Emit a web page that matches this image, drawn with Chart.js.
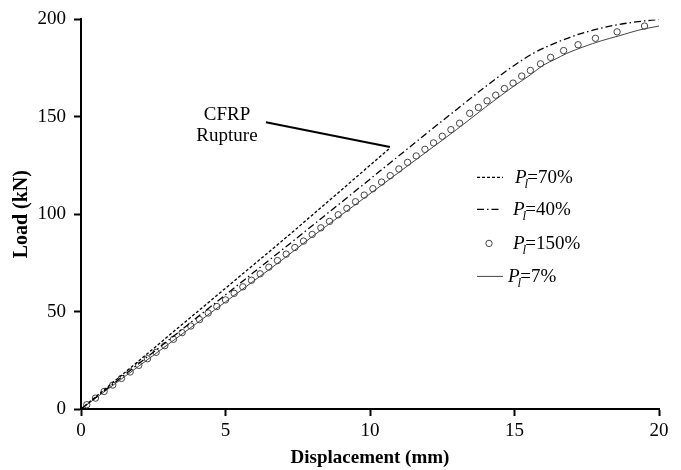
<!DOCTYPE html>
<html>
<head>
<meta charset="utf-8">
<title>Load vs displacement</title>
<script src="https://cdn.jsdelivr.net/npm/chart.js@4.4.0/dist/chart.umd.min.js"></script>
<style>
    html, body { margin: 0; padding: 0; background: #fff; }
    #chart { display: block; }
</style>
</head>
<body>
<canvas id="chart" width="681" height="470"></canvas>
<script>
// Load-displacement curves for different Pl levels

const xTicks = [0, 5, 10, 15, 20];
const yTicks = [0, 50, 100, 150, 200];

// Pl = 70% (stops at CFRP rupture)
const disp70 = [0, 1, 2, 3, 4, 5, 6, 7, 8, 9, 10, 10.69];
const load70 = [0, 12.3, 24.7, 37.2, 49.6, 62.0, 74.4, 86.8, 99.5, 112.3, 125.1, 134.0];

// Pl = 40%
const disp40 = [0, 1, 2, 3, 4, 5, 6, 7, 8, 9, 10, 11, 12, 13, 14, 15, 15.7, 16.2, 16.9, 17.6, 18.4, 19.2, 20];
const load40 = [0, 11.6, 23.3, 35.0, 46.8, 58.6, 70.4, 82.2, 94.1, 106.0, 118.0, 130.0, 142.0, 153.8, 165.5, 176.5, 183.0, 186.5, 190.7, 194.0, 196.8, 198.7, 200.0];

// Pl = 150% (markers only)
const disp150 = [0.2, 0.5, 0.8, 1.1, 1.4, 1.7, 2.0, 2.3, 2.6, 2.9, 3.2, 3.5, 3.8, 4.1, 4.4, 4.7,
    5.0, 5.3, 5.6, 5.9, 6.2, 6.5, 6.8, 7.1, 7.4, 7.7, 8.0, 8.3, 8.6, 8.9, 9.2, 9.5, 9.8,
    10.1, 10.4, 10.7, 11.0, 11.3, 11.6, 11.9, 12.2, 12.5, 12.8, 13.1, 13.45, 13.75, 14.05,
    14.35, 14.65, 14.95, 15.25, 15.55, 15.9, 16.25, 16.7, 17.2, 17.8, 18.55, 19.5];
const load150 = [2.2, 5.6, 9.0, 12.3, 15.7, 19.0, 22.4, 25.8, 29.1, 32.5, 35.8, 39.2, 42.6, 45.9, 49.3, 52.6,
    56.0, 59.4, 62.7, 66.1, 69.4, 72.8, 76.2, 79.5, 82.9, 86.2, 89.6, 93.0, 96.3, 99.7, 103.0, 106.4, 109.8,
    113.1, 116.5, 119.8, 123.2, 126.6, 129.9, 133.3, 136.6, 140.0, 143.4, 146.7, 151.8, 154.8, 158.2,
    161.1, 164.5, 167.3, 170.9, 173.8, 177.2, 180.5, 184.0, 187.0, 190.3, 193.6, 196.6];

// Pl = 7%
const disp7 = [0, 1, 2, 3, 4, 5, 6, 7, 8, 9, 10, 11, 12, 13, 14, 15, 15.5, 16, 16.4, 16.8, 17.4, 18, 18.6, 19.3, 20];
const load7 = [0, 11.0, 22.0, 33.0, 44.0, 55.0, 66.0, 77.0, 88.5, 99.5, 110.5, 121.5, 132.5, 143.5, 155.0, 166.0, 171.0, 176.5, 179.5, 182.5, 186.0, 189.0, 191.5, 194.5, 196.6];

const seriesPct = ['70%', '40%', '150%', '7%'];

// CFRP rupture callout: label anchor and arrow tip (data units)
const ruptureFrom = [6.4, 147.2];
const ruptureTo = [10.69, 134.5];
const ruptureText = ['CFRP', 'Rupture'];

const SERIF = '"Liberation Serif", "Times New Roman", serif';

const toPoints = (xs, ys) => xs.map((x, i) => ({ x: x, y: ys[i] }));

const styles = [
    { dash: [3, 2], color: '#000', width: 1.3 },
    { dash: [7, 3, 1.5, 3], color: '#000', width: 1.3 },
    { marker: true, color: '#444' },
    { dash: [], color: '#444', width: 1 }
];

// Draws "Pl=xx%" with italic P and subscript l
function drawPl(ctx, x, y, pct) {
    ctx.textBaseline = 'alphabetic';
    ctx.textAlign = 'left';
    ctx.fillStyle = '#000';
    ctx.font = 'italic 19px ' + SERIF;
    ctx.fillText('P', x, y);
    const pw = ctx.measureText('P').width;
    ctx.font = 'italic 13px ' + SERIF;
    ctx.fillText('l', x + pw - 2, y + 5);
    const lw = ctx.measureText('l').width;
    ctx.font = '19px ' + SERIF;
    ctx.fillText('=' + pct, x + pw + lw - 3, y);
}

const legendAndNotes = {
    id: 'legendAndNotes',
    afterDraw(chart) {
        const ctx = chart.ctx;
        const xs = chart.scales.x;
        const ys = chart.scales.y;
        const area = chart.chartArea;
        ctx.save();

        // Custom legend
        const rows = [
            { dy: 158, x0: 396, x1: 422, tx: 434 },
            { dy: 190, x0: 396, x1: 419, tx: 432 },
            { dy: 224, x0: 396, x1: 420, tx: 432 },
            { dy: 257, x0: 396, x1: 422, tx: 427 }
        ];
        rows.forEach((r, i) => {
            const s = styles[i];
            const y = area.top + r.dy;
            if (s.marker) {
                ctx.beginPath();
                ctx.setLineDash([]);
                ctx.strokeStyle = s.color;
                ctx.lineWidth = 1;
                ctx.arc(area.left + (r.x0 + r.x1) / 2, y, 3.2, 0, Math.PI * 2);
                ctx.stroke();
            } else {
                ctx.beginPath();
                ctx.setLineDash(s.dash);
                ctx.strokeStyle = s.color;
                ctx.lineWidth = s.width;
                ctx.moveTo(area.left + r.x0, y);
                ctx.lineTo(area.left + r.x1, y);
                ctx.stroke();
            }
            drawPl(ctx, area.left + r.tx, y + 6, seriesPct[i]);
        });

        // CFRP rupture callout
        const fx = xs.getPixelForValue(ruptureFrom[0]);
        const fy = ys.getPixelForValue(ruptureFrom[1]);
        ctx.beginPath();
        ctx.setLineDash([]);
        ctx.strokeStyle = '#000';
        ctx.lineWidth = 2;
        ctx.moveTo(fx, fy);
        ctx.lineTo(xs.getPixelForValue(ruptureTo[0]), ys.getPixelForValue(ruptureTo[1]));
        ctx.stroke();

        ctx.fillStyle = '#000';
        ctx.font = '19px ' + SERIF;
        ctx.textAlign = 'center';
        ctx.textBaseline = 'alphabetic';
        ctx.fillText(ruptureText[0], fx - 39, fy - 2);
        ctx.fillText(ruptureText[1], fx - 39, fy + 19);

        ctx.restore();
    }
};

const datasets = [
    { data: toPoints(disp70, load70), st: styles[0] },
    { data: toPoints(disp40, load40), st: styles[1] },
    { data: toPoints(disp150, load150), st: styles[2] },
    { data: toPoints(disp7, load7), st: styles[3] }
].map(d => d.st.marker ? {
    data: d.data,
    showLine: false,
    pointStyle: 'circle',
    pointRadius: 3.2,
    pointBorderWidth: 1,
    pointBorderColor: d.st.color,
    pointBackgroundColor: 'rgba(255,255,255,0)'
} : {
    data: d.data,
    showLine: true,
    borderColor: d.st.color,
    borderWidth: d.st.width,
    borderDash: d.st.dash,
    pointRadius: 0,
    tension: 0.3,
    cubicInterpolationMode: 'monotone',
    fill: false
});

const axisCommon = {
    type: 'linear',
    border: { display: true, color: '#000', width: 2 },
    grid: { drawOnChartArea: false, drawTicks: true, tickLength: 7, tickColor: '#000', tickWidth: 2 },
    ticks: { color: '#000', font: { family: SERIF, size: 19 } }
};

new Chart(document.getElementById('chart'), {
    type: 'scatter',
    data: { datasets: datasets },
    options: {
        responsive: false,
        animation: false,
        devicePixelRatio: 1,
        layout: { padding: { top: 15, right: 22, left: 0, bottom: 0 } },
        plugins: { legend: { display: false }, tooltip: { enabled: false } },
        scales: {
            x: Object.assign({}, axisCommon, {
                min: 0, max: 20,
                ticks: Object.assign({}, axisCommon.ticks, { padding: 4 }),
                afterBuildTicks: axis => { axis.ticks = xTicks.map(v => ({ value: v })); },
                afterFit: axis => { axis.height = 61; },
                title: {
                    display: true, text: 'Displacement (mm)', color: '#000',
                    font: { family: SERIF, size: 19, weight: 'bold' },
                    padding: { top: 0, bottom: 1 }
                }
            }),
            y: Object.assign({}, axisCommon, {
                min: 0, max: 200,
                ticks: Object.assign({}, axisCommon.ticks, { padding: 8 }),
                afterBuildTicks: axis => { axis.ticks = yTicks.map(v => ({ value: v })); },
                afterFit: axis => { axis.width = 81; },
                title: {
                    display: true, text: 'Load (kN)', color: '#000',
                    font: { family: SERIF, size: 20, weight: 'bold' },
                    padding: { top: 10, bottom: 0 }
                }
            })
        }
    },
    plugins: [legendAndNotes]
});
</script>
</body>
</html>
